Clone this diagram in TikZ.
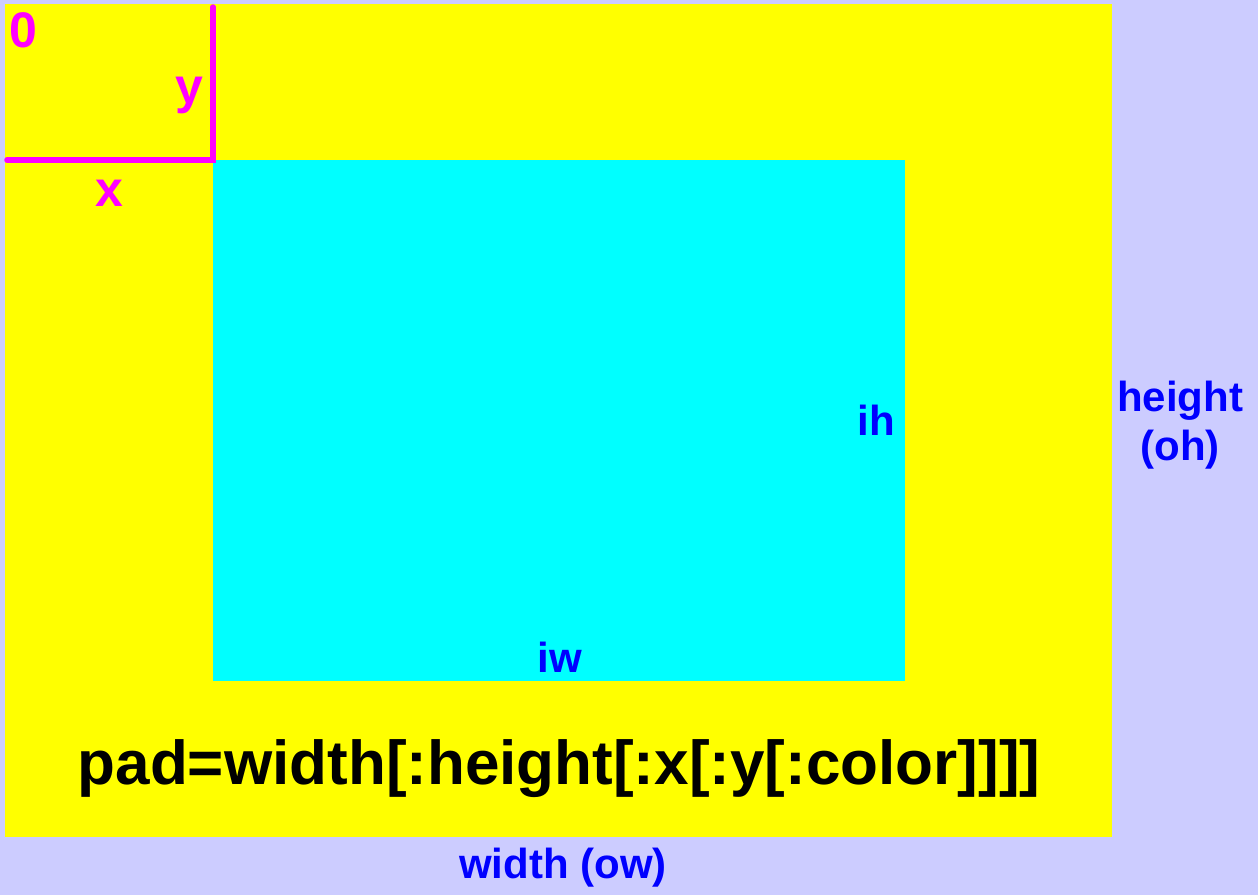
\documentclass[tikz,border=0pt]{standalone}
\usepackage{fontspec}
\setmainfont{Liberation Sans}
\usepackage{xcolor}
\usetikzlibrary{positioning}
\definecolor{lavender}{HTML}{CCCCFF}
\definecolor{padyellow}{HTML}{FFFF00}
\definecolor{incyan}{HTML}{00FFFF}
\definecolor{offmag}{HTML}{FF00FF}
\definecolor{dimblue}{HTML}{0000FF}
\tikzset{
    outer/.style={fill=padyellow},
    inner/.style={fill=incyan},
    offset/.style={draw=offmag, line width=5.5pt, line cap=round, line join=miter},
    offlabel/.style={inner sep=0pt, text=offmag, font=\fontsize{50}{58}\selectfont\bfseries},
    dimlabel/.style={inner sep=0pt, text=dimblue, align=center,
                     font=\fontsize{42}{49}\selectfont\bfseries},
    syntax/.style={inner sep=0pt, text=black, font=\fontsize{62}{72}\selectfont\bfseries}
}

\begin{document}
\begin{tikzpicture}[x=1pt, y=-1pt]

  % --- Canvas ---
  \fill[lavender] (0,0) rectangle (1258,895);

  % --- Padded frame and input picture ---
  \fill[outer] (5,4) rectangle (1112,837);
  \fill[inner] (213,160) rectangle (905,681);

  % --- Offset x / y ---
  \coordinate (ytop)   at (213,7);
  \coordinate (corner) at (213,160);
  \coordinate (xleft)  at (7,160);
  \draw[offset] (ytop) -- (corner) -- (xleft);

  \node[offlabel, anchor=base west] (orig) at (9,47)   {0};
  \node[offlabel, anchor=base east] (ylab) at (204,103) {y};
  \node[offlabel, anchor=base]      (xlab) at (109,206) {x};

  % --- Input and output sizes ---
  \node[dimlabel, anchor=base] (ih) at (876,435) {ih};
  \node[dimlabel, anchor=base] (iw) at (560,672) {iw};
  \node[dimlabel, anchor=base] (oh) at (1180,460) {height\\(oh)};
  \node[dimlabel, anchor=base] (ow) at (563,878) {width (ow)};

  % --- Option syntax ---
  \node[syntax, anchor=base] (pad) at (559,784)
        {pad=width[:height[:x[:y[:color]]]]};

\end{tikzpicture}
\end{document}
